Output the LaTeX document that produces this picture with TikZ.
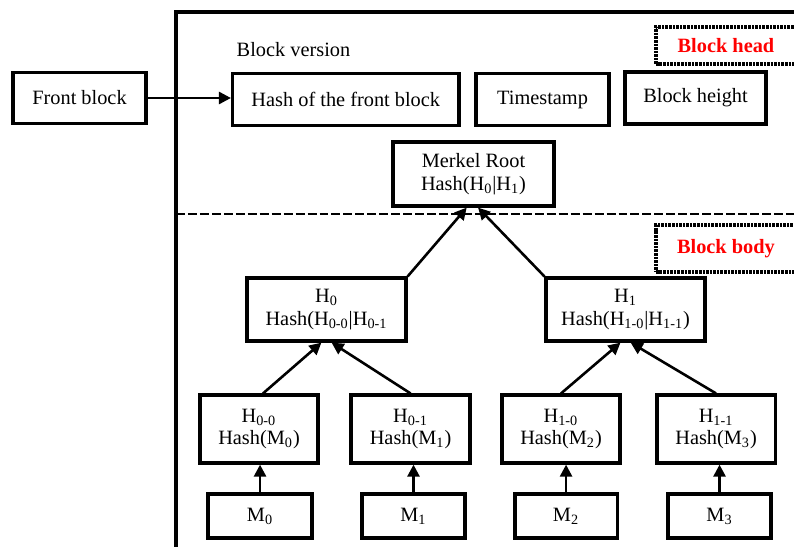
\documentclass[tikz,border=0pt]{standalone}
\usepackage{fontspec}
\setmainfont{Liberation Serif}
\usetikzlibrary{arrows.meta}

\begin{document}
\begin{tikzpicture}[
    box/.style={draw, line width=1.6pt, align=center, inner sep=0pt, font=\fontsize{10.2}{11.2}\selectfont},
    tag/.style={draw, line width=1.6pt, dash pattern=on 1.3pt off 0.5pt, text=red, font=\fontsize{10.2}{12}\selectfont\bfseries, minimum width=2.47cm},
    link/.style={-{Triangle[length=6pt,width=6pt]}, line width=1.3pt}
]
    \useasboundingbox (0,0) rectangle (14.0,9.628);

    % Block frame and head/body split
    \draw[line width=1.6pt] (3.103,-0.1) -- (3.103,9.416) -- (14.1,9.416);
    \draw[line width=1.3pt, dash pattern=on 4.5pt off 1.5pt] (3.103,5.854) -- (14.0,5.854);
    \node[tag, minimum height=0.652cm] (head) at (12.80,8.826) {Block head};
    \node[tag, minimum height=0.829cm] (body) at (12.80,5.246) {Block body};

    % Block head fields
    \node[font=\fontsize{10.2}{12}\selectfont] (version) at (5.175,8.746) {Block version};
    \node[box, minimum width=2.345cm, minimum height=0.899cm] (front) at (1.402,7.90) {Front block};
    \node[box, minimum width=3.994cm, minimum height=0.917cm] (prevhash) at (6.097,7.87) {Hash of the front block};
    \node[box, minimum width=2.345cm, minimum height=0.917cm] (stamp) at (9.566,7.87) {Timestamp};
    \node[box, minimum width=2.486cm, minimum height=0.917cm] (height) at (12.264,7.90) {Block height};
    \draw[link] (front.east) -- (front.east -| prevhash.west);

    % Merkel root
    \node[box, minimum width=2.839cm, minimum height=1.129cm] (root) at (8.349,6.560) {Merkel Root\\Hash(H\textsubscript{0}|H\textsubscript{1})};

    % Level 1
    \node[box, minimum width=2.804cm, minimum height=1.111cm] (h0) at (5.757,4.170) {H\textsubscript{0}\\Hash(H\textsubscript{0-0}|H\textsubscript{0-1}};
    \node[box, minimum width=2.804cm, minimum height=1.111cm] (h1) at (11.030,4.170) {H\textsubscript{1}\\Hash(H\textsubscript{1-0}|H\textsubscript{1-1})};
    \draw[link] (h0.north east) -- ([xshift=-0.12cm]root.south);
    \draw[link] (h1.north west) -- ([xshift=0.08cm]root.south);

    % Level 2
    \node[box, minimum width=2.081cm, minimum height=1.199cm] (h00) at (4.567,2.063) {H\textsubscript{0-0}\\Hash(M\textsubscript{0})};
    \node[box, minimum width=2.098cm, minimum height=1.199cm] (h01) at (7.239,2.063) {H\textsubscript{0-1}\\Hash(M\textsubscript{1})};
    \node[box, minimum width=2.081cm, minimum height=1.199cm] (h10) at (9.892,2.063) {H\textsubscript{1-0}\\Hash(M\textsubscript{2})};
    \node[box, minimum width=2.081cm, minimum height=1.199cm] (h11) at (12.626,2.063) {H\textsubscript{1-1}\\Hash(M\textsubscript{3})};
    \draw[link] ([xshift=0.07cm]h00.north) -- ([xshift=-0.09cm]h0.south);
    \draw[link] (h01.north) -- ([xshift=0.09cm]h0.south);
    \draw[link] (h10.north) -- ([xshift=-0.09cm]h1.south);
    \draw[link] (h11.north) -- ([xshift=0.09cm]h1.south);

    % Messages
    \node[box, minimum width=1.834cm, minimum height=0.776cm] (m0) at (4.585,0.529) {M\textsubscript{0}};
    \node[box, minimum width=1.816cm, minimum height=0.776cm] (m1) at (7.291,0.529) {M\textsubscript{1}};
    \node[box, minimum width=1.800cm, minimum height=0.776cm] (m2) at (9.981,0.529) {M\textsubscript{2}};
    \node[box, minimum width=1.816cm, minimum height=0.776cm] (m3) at (12.687,0.529) {M\textsubscript{3}};
    \draw[link] (m0.north) -- (m0.north |- h00.south);
    \draw[link] (m1.north) -- (m1.north |- h01.south);
    \draw[link] (m2.north) -- (m2.north |- h10.south);
    \draw[link] (m3.north) -- (m3.north |- h11.south);
\end{tikzpicture}
\end{document}
